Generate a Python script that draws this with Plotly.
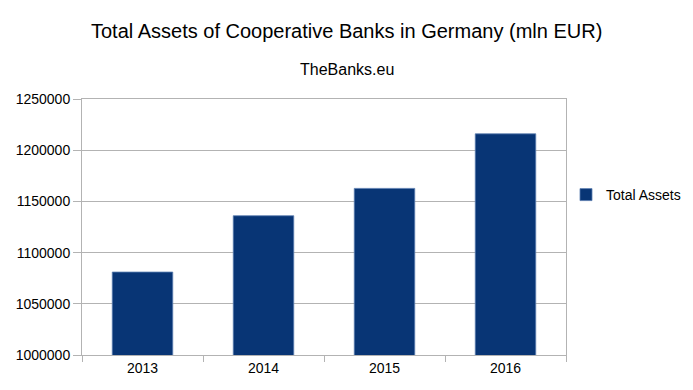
import plotly.graph_objects as go

years = ["2013", "2014", "2015", "2016"]
total_assets = [1081000, 1136000, 1162700, 1216000]
series_name = "Total Assets"
y_ticks = [1000000, 1050000, 1100000, 1150000, 1200000, 1250000]

FONT = "Liberation Sans, Arial, sans-serif"
W, H = 693, 390
ML, MR, MT, MB = 81.5, 127, 99, 35
title_x = (346.5 - ML) / (W - ML - MR)

fig = go.Figure()
fig.add_trace(go.Bar(
    x=years, y=total_assets, name=series_name,
    marker=dict(color="#083575", line=dict(color="#5a7db0", width=0.8)),
    width=0.5,
))

fig.update_layout(
    width=W, height=H,
    paper_bgcolor="white", plot_bgcolor="white",
    margin=dict(l=ML, r=MR, t=MT, b=MB, autoexpand=False),
    font=dict(family=FONT, color="black", size=13),
    showlegend=True,
    legend=dict(xref="container", yref="container",
                x=566 / W, y=1 - 195 / H, xanchor="left", yanchor="middle",
                font=dict(size=14), itemwidth=30,
                bgcolor="rgba(0,0,0,0)"),
    annotations=[
        dict(text="Total Assets of Cooperative Banks in Germany (mln EUR)",
             xref="paper", yref="paper", x=title_x, y=1, yshift=68,
             xanchor="center", yanchor="middle", showarrow=False,
             font=dict(size=20, family=FONT)),
        dict(text="TheBanks.eu",
             xref="paper", yref="paper", x=title_x, y=1, yshift=30,
             xanchor="center", yanchor="middle", showarrow=False,
             font=dict(size=16, family=FONT)),
    ],
)

fig.update_xaxes(
    type="category", showline=True, linecolor="#b3b3b3", linewidth=1,
    mirror=True, ticks="outside", tickson="boundaries", ticklen=6,
    tickcolor="#b3b3b3", showgrid=False, tickfont=dict(size=14),
)
fig.update_yaxes(
    range=[1000000, 1250000], tickvals=y_ticks,
    ticktext=[str(v) for v in y_ticks],
    showline=True, linecolor="#b3b3b3", linewidth=1, mirror=True,
    ticks="outside", ticklen=8, tickcolor="#b3b3b3",
    showgrid=True, gridcolor="#b3b3b3", gridwidth=1,
    tickfont=dict(size=14), zeroline=False,
)

fig.write_html("out.html", config={"displayModeBar": False},
               post_script="document.body.style.margin='0';")
